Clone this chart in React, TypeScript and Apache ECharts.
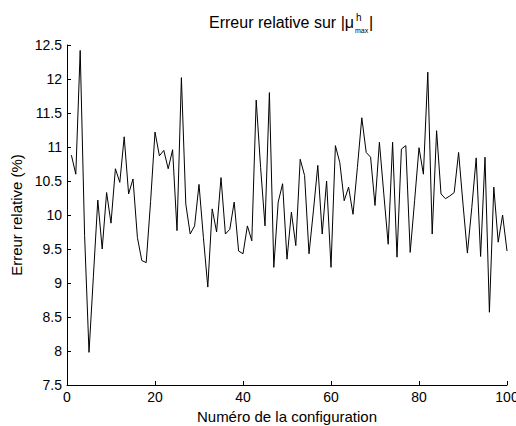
import React, { useEffect, useRef } from "react";
import * as echarts from "echarts";

// Numéro de la configuration
const configurations: number[] = [
  1, 2, 3, 4, 5, 6, 7, 8, 9, 10,
  11, 12, 13, 14, 15, 16, 17, 18, 19, 20,
  21, 22, 23, 24, 25, 26, 27, 28, 29, 30,
  31, 32, 33, 34, 35, 36, 37, 38, 39, 40,
  41, 42, 43, 44, 45, 46, 47, 48, 49, 50,
  51, 52, 53, 54, 55, 56, 57, 58, 59, 60,
  61, 62, 63, 64, 65, 66, 67, 68, 69, 70,
  71, 72, 73, 74, 75, 76, 77, 78, 79, 80,
  81, 82, 83, 84, 85, 86, 87, 88, 89, 90,
  91, 92, 93, 94, 95, 96, 97, 98, 99, 100,
];

// Erreur relative (%)
const errors: number[] = [
  10.88, 10.6, 12.42, 9.7, 7.98, 9.1, 10.22, 9.5, 10.33, 9.88,
  10.68, 10.48, 11.15, 10.31, 10.53, 9.67, 9.33, 9.3, 10.2, 11.22,
  10.87, 10.95, 10.68, 10.96, 9.77, 12.02, 10.16, 9.72, 9.84, 10.45,
  9.67, 8.94, 10.09, 9.75, 10.55, 9.72, 9.79, 10.19, 9.47, 9.43,
  9.84, 9.62, 11.69, 10.7, 9.84, 11.8, 9.23, 10.19, 10.46, 9.35,
  10.04, 9.55, 10.82, 10.58, 9.43, 10.06, 10.73, 9.72, 10.5, 9.23,
  11.02, 10.77, 10.21, 10.41, 10.01, 10.7, 11.43, 10.92, 10.85, 10.14,
  11.07, 10.31, 9.57, 11.07, 9.38, 10.97, 11.02, 9.45, 10.21, 10.99,
  10.6, 12.1, 9.72, 11.24, 10.31, 10.24, 10.28, 10.33, 10.92, 10.16,
  9.44, 10.11, 10.84, 9.39, 10.85, 8.57, 10.41, 9.6, 10.0, 9.47,
];

const titleMain = "Erreur relative sur |μ";
const titleSup = "h";
const titleSub = "max";
const titleEnd = "|";
const xName = "Numéro de la configuration";
const yName = "Erreur relative (%)";

const FONT = "'Liberation Sans', Arial, Helvetica, sans-serif";

export default function App() {
  const ref = useRef<HTMLDivElement>(null);

  useEffect(() => {
    if (!ref.current) return;
    const chart = echarts.init(ref.current, undefined, { renderer: "svg" });
    const data = configurations.map((c, i) => [c, errors[i]]);
    chart.setOption({
      animation: false,
      backgroundColor: "#ffffff",
      textStyle: { fontFamily: FONT },
      grid: {
        left: 67,
        right: 9,
        top: 45,
        bottom: 41,
        containLabel: false,
        outerBoundsMode: "none",
      },
      graphic: [
        {
          type: "text",
          x: 354,
          y: 22,
          style: {
            text: titleMain,
            fontSize: 16,
            fontFamily: FONT,
            fill: "#000",
            textAlign: "right",
            textVerticalAlign: "middle",
          },
        },
        {
          type: "text",
          x: 356,
          y: 17,
          style: {
            text: titleSup,
            fontSize: 10,
            fontFamily: FONT,
            fill: "#000",
            textAlign: "left",
            textVerticalAlign: "middle",
          },
        },
        {
          type: "text",
          x: 355,
          y: 30,
          style: {
            text: titleSub,
            fontSize: 7,
            fontFamily: FONT,
            fill: "#000",
            textAlign: "left",
            textVerticalAlign: "middle",
          },
        },
        {
          type: "text",
          x: 369,
          y: 22,
          style: {
            text: titleEnd,
            fontSize: 16,
            fontFamily: FONT,
            fill: "#000",
            textAlign: "left",
            textVerticalAlign: "middle",
          },
        },
      ],
      xAxis: {
        type: "value",
        min: 0,
        max: 100,
        interval: 20,
        name: xName,
        nameLocation: "middle",
        nameGap: 22,
        nameTextStyle: { fontSize: 15, color: "#000", fontFamily: FONT },
        axisLine: { show: true, lineStyle: { color: "#000", width: 1 } },
        axisTick: { show: true, inside: true, length: 4, lineStyle: { color: "#000" } },
        axisLabel: { color: "#000", fontSize: 14, margin: 5, fontFamily: FONT },
        splitLine: { show: false },
      },
      yAxis: {
        type: "value",
        min: 7.5,
        max: 12.5,
        interval: 0.5,
        name: yName,
        nameLocation: "middle",
        nameGap: 35,
        nameTextStyle: { fontSize: 15, color: "#000", fontFamily: FONT },
        axisLine: { show: true, lineStyle: { color: "#000", width: 1 } },
        axisTick: { show: true, inside: true, length: 4, lineStyle: { color: "#000" } },
        axisLabel: { color: "#000", fontSize: 14, margin: 5, fontFamily: FONT },
        splitLine: { show: false },
      },
      series: [
        {
          type: "line",
          data,
          showSymbol: false,
          symbol: "none",
          lineStyle: { color: "#000", width: 1 },
        },
      ],
    });
    return () => chart.dispose();
  }, []);

  return (
    <div
      ref={ref}
      style={{ position: "fixed", left: 0, top: 0, width: 516, height: 426, background: "#fff" }}
    />
  );
}
